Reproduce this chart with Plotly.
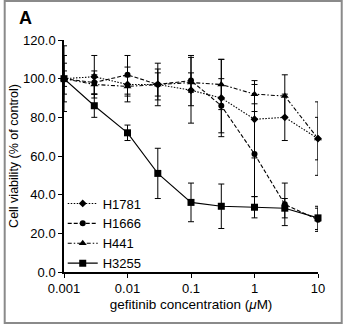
import plotly.graph_objects as go

conc = [0.001, 0.003, 0.01, 0.03, 0.1, 0.3, 1, 3, 10]
h1781 = [100, 101, 97, 97, 94, 90, 79, 80, 69]
h1781_err = [12, 11, 9, 8, 17, 20, 20, 12, 19]
h1666 = [100, 98, 102, 97, 99, 86, 61, 35, 27]
h1666_err = [8, 6, 10, 11, 13, 14, 22, 11, 6]
h441 = [100, 97, 96, 97, 98, 97, 92, 91, 69]
h441_err = [17, 5, 5, 6, 5, 13, 5, 11, 11]
h3255 = [100, 86, 72, 51, 36, 34, 33.5, 33, 28]
h3255_err = [4, 6, 4, 13, 10, 11.5, 5.5, 5, 6]

series = [
    ("H1781", h1781, h1781_err, "1.5px,1.5px", "diamond", 6),
    ("H1666", h1666, h1666_err, "4px,2px", "circle", 6),
    ("H441", h441, h441_err, "4px,2px,1.5px,2px", "triangle-up", 7),
    ("H3255", h3255, h3255_err, "solid", "square", 7),
]

FONT = "Liberation Sans, Arial, Helvetica, sans-serif"
fig = go.Figure()
for name, y, e, dash, sym, sz in series:
    fig.add_trace(go.Scatter(
        x=conc, y=y, name=name, mode="lines+markers",
        line=dict(color="black", width=1.1, dash=dash),
        marker=dict(symbol=sym, size=sz, color="black"),
        error_y=dict(type="data", array=e, color="black", thickness=1, width=3),
        cliponaxis=False,
    ))

W, H = 343, 324
ml, mr, mt, mb = 61, 25, 40, 52
pw, ph = W - ml - mr, H - mt - mb

fig.update_layout(
    width=W, height=H,
    margin=dict(l=ml, r=mr, t=mt, b=mb),
    paper_bgcolor="white", plot_bgcolor="white",
    font=dict(family=FONT, size=13, color="black"),
    showlegend=True,
    legend=dict(x=-0.005, y=0.36, xanchor="left", yanchor="top",
                font=dict(size=13), bgcolor="rgba(0,0,0,0)",
                tracegroupgap=0, itemwidth=30),
    xaxis=dict(type="log", range=[-3, 1], showgrid=False, zeroline=False,
               showline=True, linecolor="black", linewidth=1.5,
               ticks="outside", ticklen=4, tickcolor="black",
               tickvals=[0.001, 0.01, 0.1, 1, 10],
               ticktext=["0.001", "0.01", "0.1", "1", "10"],
               tickfont=dict(size=13),
               title=dict(text="gefitinib concentration (<i>μ</i>M)",
                          font=dict(size=13.5), standoff=4)),
    yaxis=dict(range=[0, 120], showgrid=False, zeroline=False,
               showline=True, linecolor="black", linewidth=1.5,
               ticks="outside", ticklen=4, tickcolor="black",
               tickvals=[0, 20, 40, 60, 80, 100, 120], tickformat=".1f",
               tickfont=dict(size=13),
               title=dict(text="Cell viability (% of control)",
                          font=dict(size=12.5), standoff=2)),
    annotations=[dict(text="<b>A</b>", xref="paper", yref="paper",
                      x=-48 / pw, y=1 + 22 / ph, xanchor="left", yanchor="middle",
                      showarrow=False, font=dict(size=18, family=FONT))],
    shapes=[dict(type="rect", xref="paper", yref="paper",
                 x0=(-ml + 1) / pw, x1=(pw + mr - 1) / pw,
                 y0=(-mb + 1) / ph, y1=(ph + mt - 1) / ph,
                 line=dict(color="#8a8a8a", width=2))],
)

fig.write_html("out.html")
